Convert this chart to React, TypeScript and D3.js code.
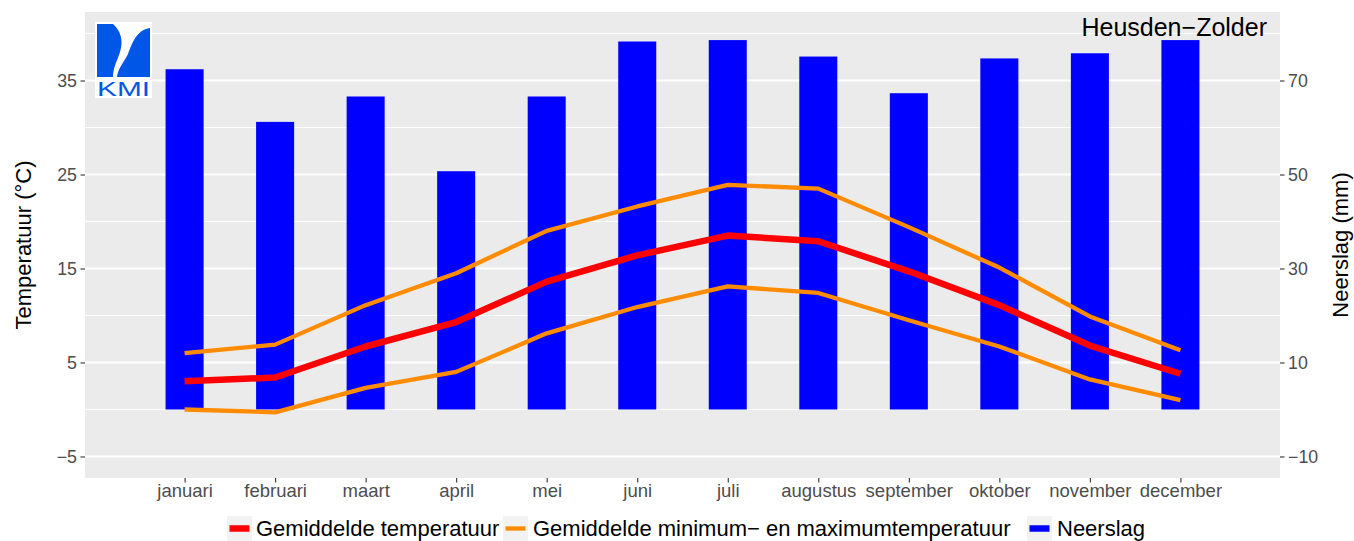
import { useEffect, useRef } from "react"
import * as d3 from "d3"

// Klimaatgegevens Heusden-Zolder
const maanden = [
  "januari", "februari", "maart", "april", "mei", "juni",
  "juli", "augustus", "september", "oktober", "november", "december",
]
const neerslag = [72.4, 61.2, 66.6, 50.7, 66.6, 78.3, 78.6, 75.1, 67.3, 74.7, 75.8, 78.6]
const tempGem = [3.0, 3.4, 6.7, 9.3, 13.6, 16.4, 18.5, 17.9, 14.7, 11.1, 6.8, 3.8]
const tempMax = [6.0, 6.9, 11.1, 14.5, 19.0, 21.6, 23.9, 23.5, 19.4, 15.1, 9.9, 6.3]
const tempMin = [0.0, -0.3, 2.3, 4.0, 8.1, 10.9, 13.1, 12.4, 9.5, 6.7, 3.2, 1.0]
const tempTicks = [-5, 5, 15, 25, 35]
const tempMinor = [0, 10, 20, 30, 40]
const neerslagTicks = [-10, 10, 30, 50, 70]

const FONT = "'Liberation Sans', Arial, Helvetica, sans-serif"

export default function App() {
  const svgRef = useRef<SVGSVGElement>(null)

  useEffect(() => {
    if (!svgRef.current) return
    const svg = d3.select(svgRef.current)
    svg.selectAll("*").remove()

    const width = 1354
    const height = 541
    const panel = { left: 85, right: 1280, top: 12, bottom: 478 }

    // Schalen
    const x = d3.scalePoint<string>().domain(maanden).range([panel.left, panel.right]).padding(1.1)
    const y = d3.scaleLinear().domain([-7.29, 42.29]).range([panel.bottom, panel.top])
    const yN = d3.scaleLinear().domain([-14.58, 84.58]).range([panel.bottom, panel.top])

    svg.append("rect").attr("width", width).attr("height", height).attr("fill", "#ffffff")

    // Paneel
    svg.append("rect")
      .attr("x", panel.left).attr("y", panel.top)
      .attr("width", panel.right - panel.left).attr("height", panel.bottom - panel.top)
      .attr("fill", "#ebebeb")

    const grid = svg.append("g")
    tempMinor.forEach((t) => {
      grid.append("line")
        .attr("x1", panel.left).attr("x2", panel.right)
        .attr("y1", y(t)).attr("y2", y(t))
        .attr("stroke", "#ffffff").attr("stroke-width", 1.1)
    })
    tempTicks.forEach((t) => {
      grid.append("line")
        .attr("x1", panel.left).attr("x2", panel.right)
        .attr("y1", y(t)).attr("y2", y(t))
        .attr("stroke", "#ffffff").attr("stroke-width", 2)
    })

    // Staven neerslag
    const barW = x.step() * 0.42
    svg.append("g")
      .selectAll("rect")
      .data(neerslag)
      .enter()
      .append("rect")
      .attr("x", (_, i) => (x(maanden[i]) || 0) - barW / 2)
      .attr("y", (d) => yN(d))
      .attr("width", barW)
      .attr("height", (d) => yN(0) - yN(d))
      .attr("fill", "#0000ff")

    // Lijnen temperatuur
    const line = d3.line<number>()
      .x((_, i) => x(maanden[i]) || 0)
      .y((d) => y(d))

    ;[tempMax, tempMin].forEach((reeks) => {
      svg.append("path")
        .datum(reeks)
        .attr("fill", "none")
        .attr("stroke", "#ff8c00")
        .attr("stroke-width", 4.3)
        .attr("stroke-linejoin", "round")
        .attr("d", line)
    })
    svg.append("path")
      .datum(tempGem)
      .attr("fill", "none")
      .attr("stroke", "#ff0000")
      .attr("stroke-width", 6.5)
      .attr("stroke-linejoin", "round")
      .attr("d", line)

    // Assen
    const styleAxis = (g: any, size: number) => {
      g.select(".domain").remove()
      g.selectAll(".tick line").attr("stroke", "#333333").attr("stroke-width", 1.1)
      g.selectAll(".tick text")
        .attr("fill", "#4d4d4d")
        .style("font-family", FONT)
        .style("font-size", `${size}px`)
    }

    svg.append("g")
      .attr("transform", `translate(${panel.left},0)`)
      .call(d3.axisLeft(y).tickValues(tempTicks).tickSize(4.5).tickPadding(3.5).tickFormat((d) => d3.format("")(d as number).replace("-", "−")))
      .call((g) => styleAxis(g, 17.8))

    svg.append("g")
      .attr("transform", `translate(${panel.right},0)`)
      .call(d3.axisRight(yN).tickValues(neerslagTicks).tickSize(4.5).tickPadding(3.5).tickFormat((d) => d3.format("")(d as number).replace("-", "−")))
      .call((g) => styleAxis(g, 17.8))

    svg.append("g")
      .attr("transform", `translate(0,${panel.bottom})`)
      .call(d3.axisBottom(x).tickSize(4.5).tickPadding(1.5))
      .call((g) => styleAxis(g, 18.5))

    // Astitels
    svg.append("text")
      .attr("transform", `translate(31,${(panel.top + panel.bottom) / 2}) rotate(-90)`)
      .attr("text-anchor", "middle")
      .style("font-family", FONT).style("font-size", "22px")
      .attr("fill", "#000000")
      .text("Temperatuur (°C)")

    svg.append("text")
      .attr("transform", `translate(1348,${(panel.top + panel.bottom) / 2}) rotate(-90)`)
      .attr("text-anchor", "middle")
      .style("font-family", FONT).style("font-size", "22px")
      .attr("fill", "#000000")
      .text("Neerslag (mm)")

    // Titel station
    svg.append("text")
      .attr("x", 1267).attr("y", 36)
      .attr("text-anchor", "end")
      .style("font-family", FONT).style("font-size", "25px")
      .attr("fill", "#000000")
      .text("Heusden−Zolder")

    // KMI logo
    const logo = svg.append("g")
    logo.append("rect").attr("x", 95).attr("y", 22).attr("width", 57).attr("height", 76).attr("fill", "#ffffff")
    logo.append("path")
      .attr("d", "M97,24 L113,24 C120,30 124,40 120,52 C117,61 113,68 113,77 L97,77 Z")
      .attr("fill", "#0057e7")
    logo.append("path")
      .attr("d", "M150,28 L150,77 L117,77 C118,68 124,62 128,54 C132,44 136,30 150,28 Z")
      .attr("fill", "#0057e7")
    logo.append("text")
      .attr("x", 123.5).attr("y", 96)
      .attr("text-anchor", "middle")
      .style("font-family", FONT).style("font-size", "20px")
      .attr("textLength", 53).attr("lengthAdjust", "spacingAndGlyphs")
      .attr("fill", "#0057e7")
      .text("KMI")

    // Legende
    const legenda = [
      { label: "Gemiddelde temperatuur", kleur: "#ff0000", dikte: 6.5, keyX: 227, textX: 256 },
      { label: "Gemiddelde minimum− en maximumtemperatuur", kleur: "#ff8c00", dikte: 4.3, keyX: 503, textX: 533 },
      { label: "Neerslag", kleur: "#0000ff", dikte: 6.5, keyX: 1027, textX: 1057 },
    ]
    const leg = svg.append("g")
    legenda.forEach((item) => {
      leg.append("rect")
        .attr("x", item.keyX).attr("y", 516)
        .attr("width", 25).attr("height", 25)
        .attr("fill", "#f2f2f2")
      leg.append("line")
        .attr("x1", item.keyX + 2.5).attr("x2", item.keyX + 22.5)
        .attr("y1", 528.5).attr("y2", 528.5)
        .attr("stroke", item.kleur).attr("stroke-width", item.dikte)
      leg.append("text")
        .attr("x", item.textX).attr("y", 536)
        .style("font-family", FONT).style("font-size", "22px")
        .attr("fill", "#000000")
        .text(item.label)
    })
  }, [])

  return (
    <svg
      ref={svgRef}
      width={1354}
      height={541}
      style={{ position: "absolute", left: 0, top: 0, display: "block" }}
    />
  )
}
